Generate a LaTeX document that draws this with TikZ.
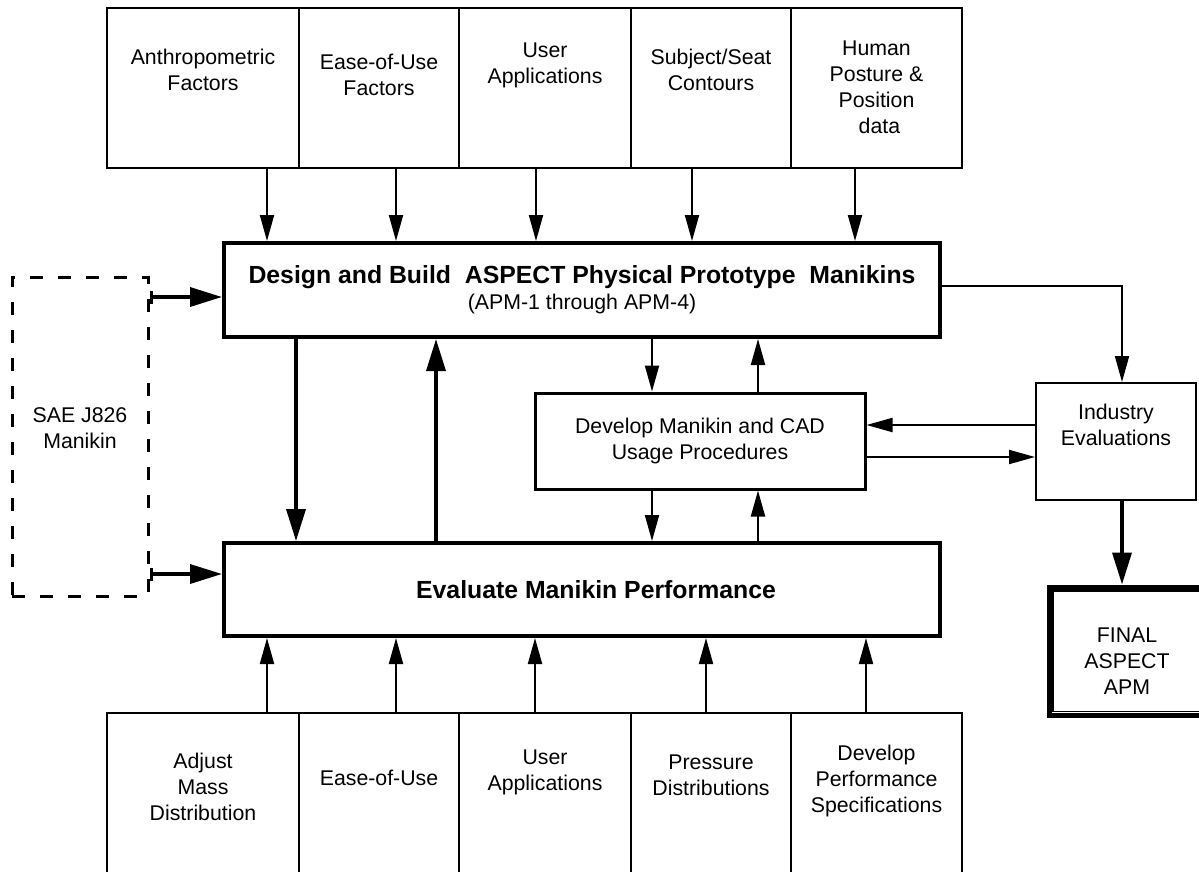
\documentclass[tikz,border=0pt]{standalone}
\usepackage{fontspec}
\setmainfont{Liberation Sans}
\usetikzlibrary{arrows.meta,calc}
\newcommand\diagfont{\fontsize{21.3pt}{26pt}\selectfont}
\newcommand\diagbold{\bfseries\fontsize{24.8pt}{28pt}\selectfont}
\tikzset{
  thinbox/.style={draw,line width=2pt,inner sep=0pt},
  thickbox/.style={draw,line width=4pt,inner sep=0pt,align=center,font=\diagfont},
  txt/.style={inner sep=0pt,align=center,font=\diagfont},
  arr/.style={line width=2pt,-{Triangle[length=26pt,width=14pt]}},
  rarr/.style={line width=2pt,{Triangle[length=26pt,width=14pt]}-},
  tarr/.style={line width=3.5pt,-{Triangle[length=32pt,width=19pt]}},
  rtarr/.style={line width=3.5pt,{Triangle[length=32pt,width=19pt]}-},
}
\begin{document}
\begin{tikzpicture}[x=1pt,y=-1pt]
	\useasboundingbox (0,0) rectangle (1199,871);
	%==top row of inputs
	\node[thinbox,minimum width=192pt,minimum height=160pt] (t1) at (203,88) {};
	\node[thinbox,minimum width=160pt,minimum height=160pt] (t2) at (379,88) {};
	\node[thinbox,minimum width=172pt,minimum height=160pt] (t3) at (545,88) {};
	\node[thinbox,minimum width=160pt,minimum height=160pt] (t4) at (711,88) {};
	\node[thinbox,minimum width=171pt,minimum height=160pt] (t5) at (876.5,88) {};
	\node[txt] (t1l) at (203,69.5) {Anthropometric\\Factors};
	\node[txt] (t2l) at (379,74.5) {Ease-of-Use\\Factors};
	\node[txt] (t3l) at (545,65) {User\\Applications};
	\node[txt] (t4l) at (711,70) {Subject/Seat\\Contours};
	\node[txt] (t5l) at (876.5,87) {Human\\Posture \&\\Position\\\ data};
	%==main process boxes
	\node[thickbox,minimum width=716pt,minimum height=94pt] (design) at (582,290)
	{{\diagbold Design and Build\ \ ASPECT Physical Prototype\ \ Manikins}\\(APM-1 through APM-4)};
	\node[thickbox,minimum width=716pt,minimum height=93pt] (evaluate) at (582,589.5)
	{\diagbold\hspace*{28pt}Evaluate Manikin Performance};
	\node[draw,line width=3pt,minimum width=330pt,minimum height=96pt,align=center,font=\diagfont] (develop) at (700,441)
	{Develop Manikin and CAD\\Usage Procedures};
	%==SAE manikin
	\node[draw,line width=3pt,dash pattern=on 13pt off 15pt,minimum width=136pt,minimum height=319pt] (sae) at (80,436.5) {};
	\node[txt] (sael) at (80,428) {SAE J826\\Manikin};
	%==industry and final
	\node[thinbox,minimum width=160pt,minimum height=117pt] (industry) at (1116,441.5) {};
	\node[txt] (industryl) at (1116,425) {Industry\\Evaluations};
	\node[draw,line width=5pt,minimum width=156pt,minimum height=128pt] (final) at (1127,651) {};
	\draw[line width=1.6pt] ([xshift=6.2pt,yshift=-6.2pt]final.north west) rectangle ([xshift=-6.2pt,yshift=6.2pt]final.south east);
	\node[txt] (finall) at (1127,661.5) {FINAL\\ASPECT\\APM};
	%==bottom row of inputs
	\node[thinbox,minimum width=192pt,minimum height=180pt] (b1) at (203,803) {};
	\node[thinbox,minimum width=160pt,minimum height=180pt] (b2) at (379,803) {};
	\node[thinbox,minimum width=172pt,minimum height=180pt] (b3) at (545,803) {};
	\node[thinbox,minimum width=160pt,minimum height=180pt] (b4) at (711,803) {};
	\node[thinbox,minimum width=171pt,minimum height=180pt] (b5) at (876.5,803) {};
	\node[txt] (b1l) at (203,787) {Adjust\\Mass\\Distribution};
	\node[txt] (b2l) at (379,778) {Ease-of-Use};
	\node[txt] (b3l) at (545,772) {User\\Applications};
	\node[txt] (b4l) at (711,775.5) {Pressure\\Distributions};
	\node[txt] (b5l) at (876.5,780.5) {Develop\\Performance\\Specifications};
	%==connectors
	\foreach \n/\dx in {t1/64,t2/17,t3/-9,t4/-19,t5/-21.5}
	\draw[arr] ([xshift=\dx pt]\n.south) coordinate (s) -- (s |- design.north);
	\foreach \n/\dx in {b1/64,b2/17,b3/-10,b4/-5,b5/-10.5}
	\draw[arr] ([xshift=\dx pt]\n.north) coordinate (s) -- (s |- evaluate.south);
	\draw[tarr] ([xshift=-286pt]design.south) coordinate (s) -- (s |- evaluate.north);
	\draw[rtarr] ([xshift=-146pt]design.south) coordinate (s) -- (s |- evaluate.north);
	\draw[rarr] ([xshift=-48pt]develop.north) coordinate (s) -- (s |- design.south);
	\draw[arr] ([xshift=58pt]develop.north) coordinate (s) -- (s |- design.south);
	\draw[arr] ([xshift=-48pt]develop.south) coordinate (s) -- (s |- evaluate.north);
	\draw[rarr] ([xshift=58pt]develop.south) coordinate (s) -- (s |- evaluate.north);
	\draw[line width=3.5pt,{Bar[width=13pt]}-{Triangle[length=32pt,width=19pt]}] ([yshift=139.5pt]sae.east) coordinate (s) -- (s -| design.west);
	\draw[line width=3.5pt,{Bar[width=13pt]}-{Triangle[length=32pt,width=19pt]}] ([yshift=-137.5pt]sae.east) coordinate (s) -- (s -| evaluate.west);
	\draw[arr] ([yshift=4pt]design.east) -| ([xshift=6pt]industry.north);
	\draw[arr] ([yshift=16.5pt]industry.west) coordinate (s) -- (s -| develop.east);
	\draw[rarr] ([yshift=-15.5pt]industry.west) coordinate (s) -- (s -| develop.east);
	\draw[tarr] ([xshift=6pt]industry.south) coordinate (s) -- (s |- final.north);
\end{tikzpicture}
\end{document}
